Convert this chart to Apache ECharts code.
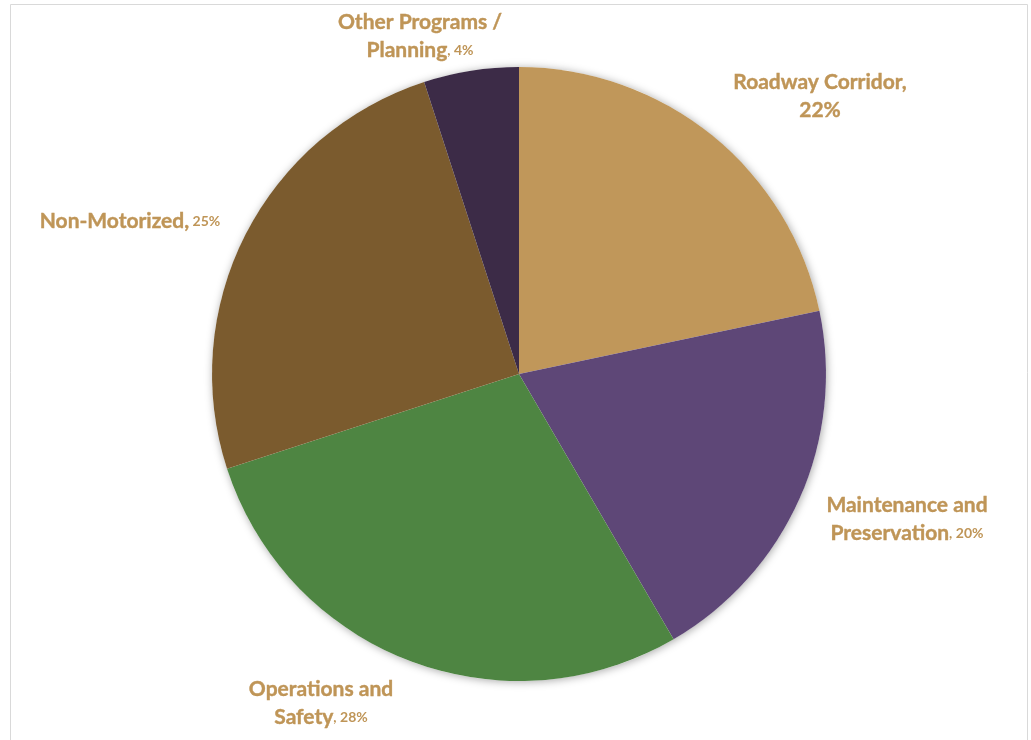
<!DOCTYPE html>
<html>
<head>
<meta charset="utf-8">
<script src="https://cdn.jsdelivr.net/npm/echarts@6/dist/echarts.min.js"></script>
<style>
html,body{margin:0;padding:0;background:#fff;}
#chart{width:1031px;height:740px;}
</style>
</head>
<body>
<div id="chart"></div>
<script>
// Data
var categories = ['Roadway Corridor', 'Maintenance and Preservation', 'Operations and Safety', 'Non-Motorized', 'Other Programs / Planning'];
var values = [21.7, 19.9, 28.4, 25.0, 5.0];
var pctLabels = ['22%', '20%', '28%', '25%', '4%'];
var labelLines = [
  ['Roadway Corridor,', ''],
  ['Maintenance and', 'Preservation'],
  ['Operations and', 'Safety'],
  ['Non-Motorized', null],
  ['Other Programs /', 'Planning']
];

// Styles / layout
var colors = ['#C0975A', '#5E4777', '#4E8542', '#7B5B2E', '#3C2B47'];
var labelColor = '#BF9557';
var labelPos = [[820, 96], [907, 519], [321, 703], [130, 221], [420, 36]];
var center = [519, 374];
var radius = 307;

function labelText(i) {
  var l = labelLines[i];
  if (i === 0) return '{a|' + l[0] + '}\n{a|' + pctLabels[i] + '}';
  if (l[1] === null) return '{a|' + l[0] + ',}{b| ' + pctLabels[i] + '}';
  return '{a|' + l[0] + '}\n{a|' + l[1] + '}{b|, ' + pctLabels[i] + '}';
}

var chart = echarts.init(document.getElementById('chart'));
chart.setOption({
  animation: false,
  graphic: [{
    type: 'rect', silent: true, z: -10,
    shape: {x: 10.5, y: 4.5, width: 1017, height: 760},
    style: {fill: 'none', stroke: '#d9d9d9', lineWidth: 1}
  }],
  series: [
    {
      type: 'pie', silent: true, z: 1,
      center: center, radius: radius,
      label: {show: false}, labelLine: {show: false},
      itemStyle: {color: '#ffffff', shadowBlur: 8, shadowColor: 'rgba(0,0,0,0.35)', shadowOffsetX: 1, shadowOffsetY: 1},
      data: [{value: 1}]
    },
    {
      type: 'pie', z: 2,
      center: center, radius: radius,
      startAngle: 90, clockwise: true,
      avoidLabelOverlap: false,
      itemStyle: {borderWidth: 0},
      labelLine: {show: false},
      label: {
        show: true,
        position: 'outside',
        formatter: function (p) { return labelText(p.dataIndex); },
        align: 'center',
        lineHeight: 28,
        rich: {
          a: {fontFamily: 'Lato', fontWeight: 'bold', fontSize: 21, color: labelColor, lineHeight: 28, textBorderColor: labelColor, textBorderWidth: 0.4},
          b: {fontFamily: 'Lato', fontWeight: 'bold', fontSize: 14, color: labelColor, lineHeight: 28}
        }
      },
      labelLayout: function (p) {
        var pos = labelPos[p.dataIndex];
        return {x: pos[0], y: pos[1], align: 'center', verticalAlign: 'middle'};
      },
      data: categories.map(function (c, i) {
        return {name: c, value: values[i], itemStyle: {color: colors[i]}};
      })
    }
  ]
});
</script>
</body>
</html>
